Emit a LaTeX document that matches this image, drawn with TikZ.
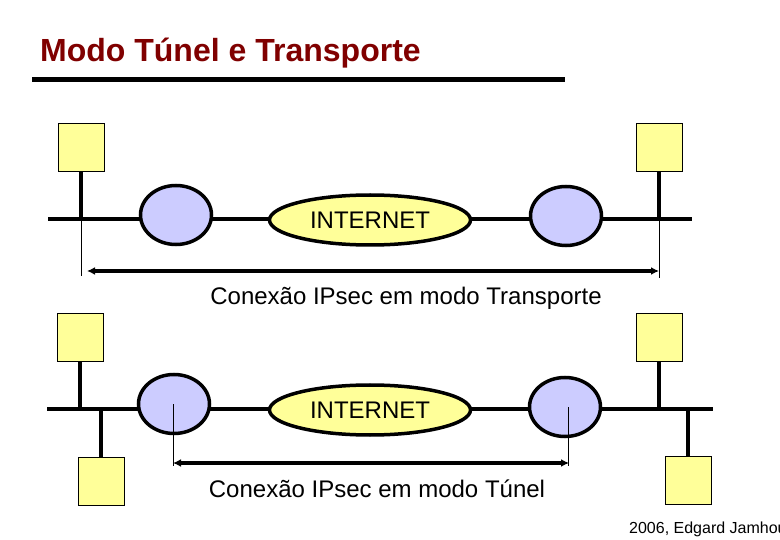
\documentclass[tikz,border=0pt]{standalone}
\usepackage{fontspec}
\setmainfont{Liberation Sans}
\usepackage{xcolor}
\usetikzlibrary{arrows.meta,positioning,shapes.geometric}
\definecolor{hostyellow}{RGB}{255,255,153}
\definecolor{gwblue}{RGB}{204,204,255}
\definecolor{titlered}{RGB}{128,0,0}

\begin{document}
\begin{tikzpicture}[
    x=1pt, y=-1pt,
    host/.style={draw, thin, fill=hostyellow, minimum width=46pt, minimum height=48pt, inner sep=0pt},
    gateway/.style={ellipse, draw, line width=3.5pt, fill=gwblue, minimum width=71pt, minimum height=59pt, inner sep=0pt},
    cloud/.style={ellipse, draw, line width=3.5pt, fill=hostyellow, minimum width=201pt, minimum height=50pt, inner sep=0pt, font=\fontsize{24}{28}\selectfont},
    wire/.style={line width=4pt},
    marker/.style={line width=0.8pt},
    arrow/.style={{Latex[length=8pt,width=8pt]}-{Latex[length=8pt,width=8pt]}, line width=3.5pt},
    caption/.style={font=\fontsize{24}{28}\selectfont, anchor=base}
  ]
    \useasboundingbox (0,0) rectangle (780,540);
    \clip (0,0) rectangle (780,540);

    % title
    \node[anchor=base west, font=\fontsize{32}{36}\selectfont\bfseries, text=titlered, inner sep=0pt] (title) at (40,62) {Modo Túnel e Transporte};
    \coordinate (barw) at (32,80);
    \coordinate (bare) at (565,80);
    \draw[line width=5pt] (barw) -- (bare);

    % transport mode
    \coordinate (busAw) at (48,219);
    \coordinate (busAe) at (692,219);
    \draw[wire] (busAw) -- (busAe);
    \node[host] (hostA) at (81,147) {};
    \node[host] (hostB) at (659,147) {};
    \draw[wire] (hostA.south) -- (hostA.south |- busAw);
    \draw[wire] (hostB.south) -- (hostB.south |- busAw);
    \node[gateway] (gwA) at (176,215) {};
    \node[cloud] (netA) at (370,220) {INTERNET};
    \node[gateway] (gwB) at (566,216) {};
    \coordinate (markA) at (81,276);
    \coordinate (markB) at (659,278);
    \draw[marker] (hostA.south |- busAw) -- (markA);
    \draw[marker] (hostB.south |- busAw) -- (markB);
    \coordinate (arrA) at (87,271);
    \coordinate (arrB) at (659,271);
    \draw[arrow] (arrA) -- (arrB);
    \node[caption] (capA) at (406,305) {Conexão IPsec em modo Transporte};

    % tunnel mode
    \coordinate (busCw) at (47,409);
    \coordinate (busCe) at (713,409);
    \draw[wire] (busCw) -- (busCe);
    \node[host] (hostC) at (80,337) {};
    \node[host] (hostD) at (101,481) {};
    \node[host] (hostE) at (659,337) {};
    \node[host] (hostF) at (688,480) {};
    \draw[wire] (hostC.south) -- (hostC.south |- busCw);
    \draw[wire] (hostD.north) -- (hostD.north |- busCw);
    \draw[wire] (hostE.south) -- (hostE.south |- busCw);
    \draw[wire] (hostF.north) -- (hostF.north |- busCw);
    \node[gateway] (gwC) at (174,404) {};
    \node[cloud] (netC) at (370,410) {INTERNET};
    \node[gateway] (gwD) at (565,407) {};
    \coordinate (markC) at (173,466);
    \coordinate (markD) at (568,466);
    \draw[marker] (gwC.center -| markC) -- (markC);
    \draw[marker] (gwD.center -| markD) -- (markD);
    \coordinate (arrC) at (173,463);
    \coordinate (arrD) at (569,463);
    \draw[arrow] (arrC) -- (arrD);
    \node[caption] (capC) at (377,497) {Conexão IPsec em modo Túnel};

    % footer
    \node[anchor=base west, font=\fontsize{16}{19}\selectfont, inner sep=0pt] (credit) at (629,533) {2006, Edgard Jamhour};
  \end{tikzpicture}
\end{document}
